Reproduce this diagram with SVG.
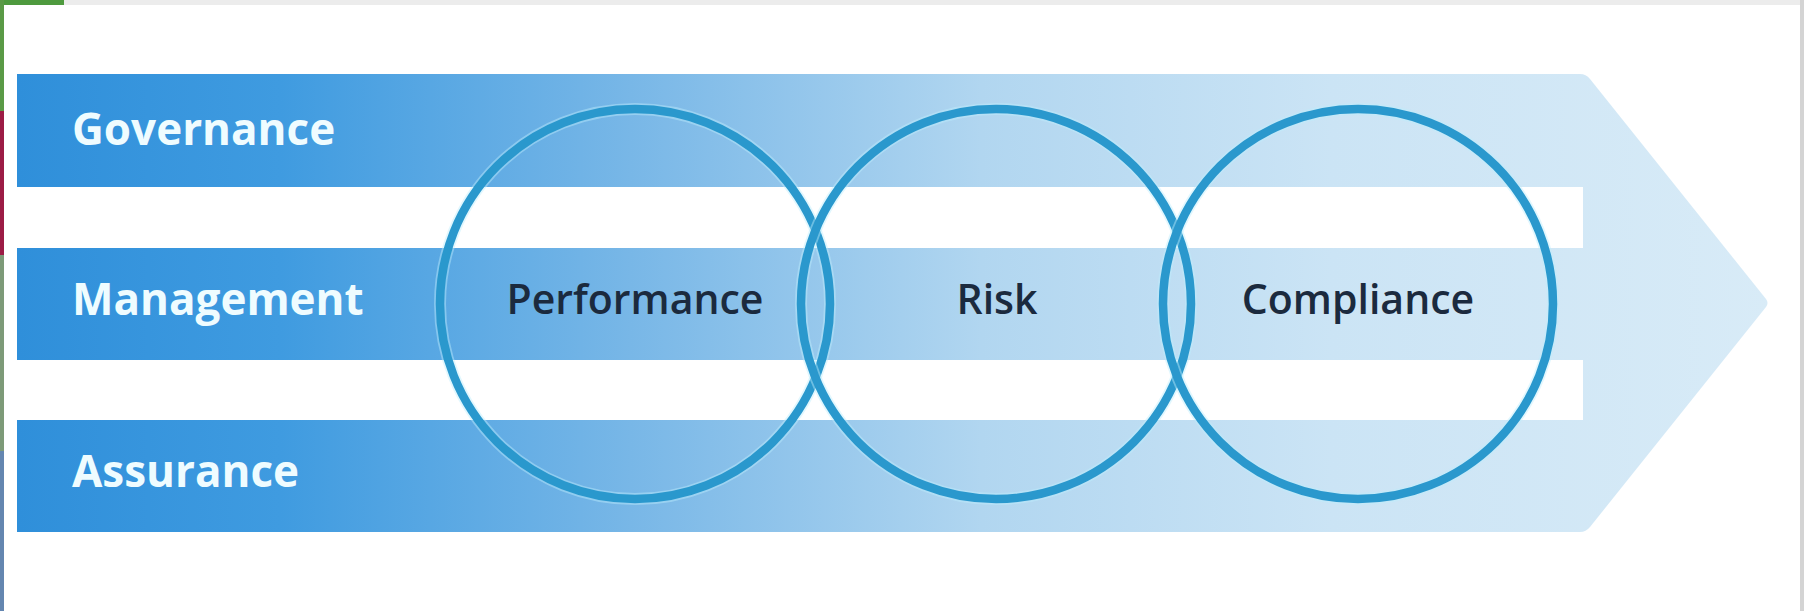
<svg xmlns="http://www.w3.org/2000/svg" width="1804" height="611" viewBox="0 0 1804 611">
  <defs>
    <linearGradient id="bandGrad" gradientUnits="userSpaceOnUse" x1="17" y1="0" x2="1770" y2="0">
      <stop offset="0" stop-color="#2f8fda"/>
      <stop offset="0.15" stop-color="#3f9be0"/>
      <stop offset="0.35" stop-color="#78b7e7"/>
      <stop offset="0.55" stop-color="#b1d6f0"/>
      <stop offset="0.75" stop-color="#cbe4f5"/>
      <stop offset="1" stop-color="#d8ebf7"/>
    </linearGradient>
    <style>
      .band { fill: url(#bandGrad); }
      .gap { fill: #ffffff; }
      .lbl { font-family: "Open Sans", "Liberation Sans", sans-serif; font-weight: 700; font-size: 44px; fill: #effcff; }
      .ring-glow { fill: none; stroke: #bdeefc; stroke-width: 12; opacity: 0.45; }
      .ring { fill: none; stroke: #2a98cd; stroke-width: 8.5; }
      .ctr { font-family: "Open Sans", "Liberation Sans", sans-serif; font-weight: 600; font-size: 41px; fill: #1b2a3e; text-anchor: middle; }
    </style>
  </defs>

  <!-- background and frame -->
  <rect x="0" y="0" width="1804" height="611" fill="#ffffff"/>
  <rect x="0" y="0" width="1804" height="5" fill="#ececec"/>
  <rect x="1800" y="0" width="4" height="611" fill="#d4d4d4"/>
  <rect x="0" y="0" width="64" height="5" fill="#4e9a3e"/>
  <rect x="0" y="0" width="4" height="111" fill="#5a9a46"/>
  <rect x="0" y="111" width="4" height="144" fill="#9c1c45"/>
  <rect x="0" y="255" width="4" height="196" fill="#7d9a78"/>
  <rect x="0" y="451" width="4" height="160" fill="#6486b0"/>

  <!-- arrow with three bands -->
  <g id="arrow">
    <path class="band" d="M17,74 L1580,74 Q1586,74 1590,79 L1766,299 Q1769,303 1766,307 L1590,527 Q1586,532 1580,532 L17,532 Z"/>
    <rect class="gap" x="17" y="187" width="1566" height="61"/>
    <rect class="gap" x="17" y="360" width="1566" height="60"/>
  </g>

  <g id="governance">
    <text class="lbl" x="72" y="145">Governance</text>
  </g>
  <g id="management">
    <text class="lbl" x="72" y="315">Management</text>
  </g>
  <g id="assurance">
    <text class="lbl" x="72" y="487">Assurance</text>
  </g>

  <g id="performance">
    <circle class="ring-glow" cx="635" cy="304" r="195"/>
    <circle class="ring" cx="635" cy="304" r="195"/>
    <text class="ctr" x="635" y="314">Performance</text>
  </g>
  <g id="risk">
    <circle class="ring-glow" cx="996" cy="304" r="195"/>
    <circle class="ring" cx="996" cy="304" r="195"/>
    <text class="ctr" x="997" y="314">Risk</text>
  </g>
  <g id="compliance">
    <circle class="ring-glow" cx="1358" cy="304" r="195"/>
    <circle class="ring" cx="1358" cy="304" r="195"/>
    <text class="ctr" x="1358" y="314">Compliance</text>
  </g>

  <g id="connectors"/>
</svg>
